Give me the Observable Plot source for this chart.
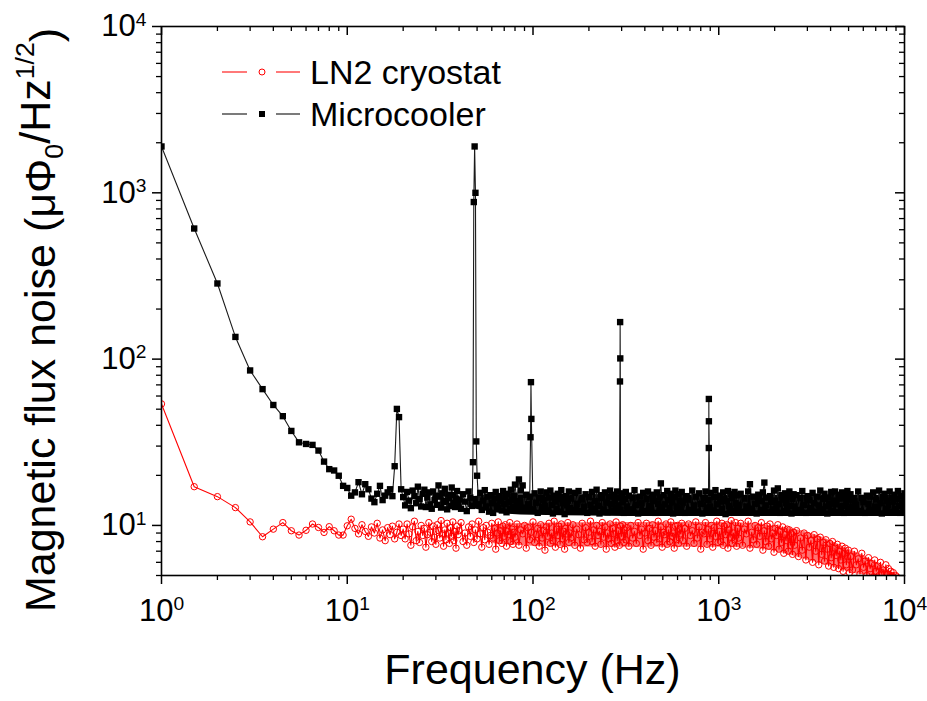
<!DOCTYPE html>
<html><head><meta charset="utf-8">
<script src="https://cdn.jsdelivr.net/npm/d3@7"></script>
<script src="https://cdn.jsdelivr.net/npm/@observablehq/plot@0.6"></script>
<style>
html,body{margin:0;padding:0;background:#fff;}
#chart{width:927px;height:701px;}
</style></head><body><div id="chart"></div>
<script>
// ---- data: frequency (Hz), noise (µΦ0/Hz^1/2) ----
// low-frequency points, individually visible
const microLow = [
[1,1900],[1.5,610],[2,285],[2.5,136],[3,85.5],[3.5,66],[4,53],[4.5,45.4],[5,37],[5.5,31.6],
[6,30.9],[6.5,30.5],[7,28.2],[7.5,24.2],[8,21.8],[8.5,21.4],[9,19.9],[9.5,17.3],[10,16.8],[10.5,15.1],
[11,15.8],[11.5,18.2],[12,15.4],[12.5,17.7],[13,16.5],[13.5,14.5],[14,13.8],[14.5,15.5],[15,17.3],[15.5,14.2],
[16,15.1],[16.5,15.8],[17,16.5],[17.5,15.0],[18,22.7],[18.5,50.2],[19,44.8],[19.5,16.5]
];
const ln2Low = [
[1,53.8],[1.5,17.1],[2,14.9],[2.5,12.8],[3,10.5],[3.5,8.55],[4,9.5],[4.5,10.4],[5,9.29],[5.5,8.75],
[6,9.35],[6.5,10.2],[7,9.72],[7.5,9.08],[8,9.83],[8.5,9.29],[9,8.75],[9.5,8.75],[10,9.95],[10.5,10.9],
[11,9.6],[11.5,8.9],[12,10.1],[12.5,9.2],[13,8.6],[13.5,9.8],[14,9.0],[14.5,10.3],[15,8.4],[15.5,9.4],
[16,8.1],[16.5,9.7],[17,8.8],[17.5,9.9],[18,8.3],[18.5,9.1],[19,10.2],[19.5,8.7]
];
// narrow line peaks of the microcooler spectrum
const microPeaks = [
[47.5,24],[48.5,1900],[49.5,32],[97,33.9],[97.5,72.7],[294,73.4],[294.5,167],[295,101],
[884,29.2],[884.5,57.6],[885,42.3]
];
// dense part of the spectra (20 Hz - 10 kHz)
const denseFreq = [
20,20.5,21,21.5,22,22.5,23,23.5,24,24.5,25,25.5,26,26.5,27,27.5,28,28.5,29,29.5,
30,30.5,31,31.5,32,32.5,33,33.5,34,34.5,35,35.5,36,36.5,37,37.5,38,38.5,39,39.5,
40,41,42,43,44,45,46,47,48,49,50,51,52,53,54,55,56,57,58,59,
60,61,62,63,64,65,66,67,68,69,70,71,72,73,74,75,76,77,78,79,
80,82,84,86,88,90,92,94,96,98,100,102,104,106,108,110,112,114,116,118,
120,122,124,126,128,130,132,134,136,138,140,142,144,146,148,150,152,154,156,158,
160,164,168,172,176,180,184,188,192,196,200,204,208,212,216,220,224,228,232,236,
240,244,248,252,256,260,264,268,272,276,280,284,288,292,296,300,304,308,312,316,
320,328,336,344,352,360,368,376,384,392,400,408,416,424,432,440,448,456,464,472,
480,488,496,504,512,520,528,536,544,552,560,568,576,584,592,600,608,616,624,632,
640,656,672,688,704,720,736,752,768,784,800,816,832,848,864,880,896,912,928,944,
960,976,992,1008,1024,1040,1056,1072,1088,1104,1120,1136,1152,1168,1184,1200,1216,1232,1248,1264,
1280,1312,1344,1376,1408,1440,1472,1504,1536,1568,1600,1632,1664,1696,1728,1760,1792,1824,1856,1888,
1920,1952,1984,2016,2048,2080,2112,2144,2176,2208,2240,2272,2304,2336,2368,2400,2432,2464,2496,2528,
2560,2624,2688,2752,2816,2880,2944,3008,3072,3136,3200,3264,3328,3392,3456,3520,3584,3648,3712,3776,
3840,3904,3968,4032,4096,4160,4224,4288,4352,4416,4480,4544,4608,4672,4736,4800,4864,4928,4992,5056,
5120,5248,5376,5504,5632,5760,5888,6016,6144,6272,6400,6528,6656,6784,6912,7040,7168,7296,7424,7552,
7680,7808,7936,8064,8192,8320,8448,8576,8704,8832,8960,9088,9216,9344,9472,9600,9728,9856,9984,10000
];
const microDense = [
14.8,13.2,15.9,14.1,12.7,16.2,15.0,13.6,17.1,14.4,13.0,15.5,16.4,12.9,14.7,15.8,13.4,12.6,16.0,14.2,
15.1,13.3,17.4,14.9,12.8,15.6,13.8,16.6,14.0,12.5,15.3,14.6,13.1,16.9,15.2,13.7,12.9,14.5,16.1,13.5,
14.3,12.6,15.4,13.9,12.2,16.0,14.7,13.1,880,1000,19.9,13.4,15.7,12.4,14.1,16.3,13.0,14.9,12.1,15.2,
13.6,11.9,14.5,15.9,13.2,12.7,15.0,14.0,12.3,16.1,13.5,14.8,12.0,15.5,13.8,12.6,16.4,14.2,13.0,15.1,
17.6,14.0,18.9,16.2,17.4,12.8,15.3,13.4,14.9,43.7,12.5,15.6,13.7,11.9,14.6,16.0,12.9,14.2,13.1,15.8,
12.3,14.7,16.2,13.3,11.8,15.1,13.9,12.6,15.5,14.4,12.1,16.3,13.6,14.8,11.7,15.0,13.2,14.1,16.0,12.7,
14.5,12.4,15.7,13.5,16.1,12.2,14.3,13.0,15.4,11.9,14.8,13.3,15.9,12.6,14.0,16.4,13.1,11.8,15.2,14.6,
12.5,15.8,13.7,12.0,14.9,16.2,13.4,12.3,15.3,14.1,12.8,16.0,13.2,14.7,12.4,15.6,13.8,11.9,14.4,15.9,
13.0,15.1,12.5,14.6,16.3,13.3,11.8,14.9,13.6,15.7,12.2,14.4,16.0,13.1,12.4,15.3,14.0,11.9,15.8,13.5,
14.7,17.9,12.9,15.2,13.4,12.0,16.1,14.2,12.7,15.5,13.8,11.8,14.8,16.2,13.0,12.3,15.4,14.1,12.6,15.9,
13.7,11.9,15.0,14.3,12.4,16.2,13.2,14.9,12.1,15.6,13.5,11.8,14.6,16.0,12.8,14.2,13.0,15.7,12.3,14.8,
16.3,13.4,12.0,15.1,13.9,12.6,15.8,14.4,11.7,14.0,16.1,13.1,12.5,15.4,14.6,12.2,15.9,13.6,12.9,15.2,
13.3,15.5,12.1,14.5,13.0,16.0,17.7,12.6,14.9,13.5,11.8,15.3,14.0,12.4,15.8,18.1,13.2,14.7,12.0,15.0,
13.8,12.5,16.2,14.1,12.9,16.7,13.4,11.9,15.2,14.3,12.2,15.6,13.6,12.7,14.8,16.0,13.1,11.8,14.4,15.4,
13.0,15.2,12.4,14.6,16.1,13.3,11.9,15.0,14.2,12.7,15.7,13.6,12.1,14.9,13.2,16.2,12.5,14.4,15.5,13.0,
11.8,14.7,13.5,15.9,12.3,14.1,16.0,13.4,12.0,15.3,14.5,12.8,15.8,13.1,11.9,14.8,13.7,16.1,12.6,14.3,
15.4,12.9,14.0,13.3,16.0,12.2,14.6,13.8,11.9,15.1,13.5,14.9,12.4,15.8,13.0,14.3,12.7,16.2,13.6,11.8,
14.8,15.5,12.5,14.1,13.2,16.0,12.1,14.7,13.9,15.3,12.6,14.4,16.1,13.1,11.9,15.0,13.7,12.8,15.6,14.2
];
const ln2Dense = [
9.5,8.3,10.2,8.9,7.6,9.8,10.6,8.1,9.2,7.9,10.0,8.7,9.6,7.4,8.8,10.4,9.1,8.0,9.9,8.5,
7.7,10.1,9.3,8.4,10.7,8.9,7.5,9.4,8.2,10.3,9.0,7.8,9.7,8.6,10.5,8.1,9.2,7.3,9.9,8.8,
9.3,10.4,8.0,9.0,7.6,9.8,8.6,10.2,7.9,9.4,8.3,10.6,8.9,7.4,9.7,8.2,10.0,9.1,7.7,8.7,
10.3,8.4,9.6,7.2,9.0,10.5,8.1,9.3,7.8,9.9,8.6,10.1,7.5,9.2,8.8,10.4,8.0,9.5,7.7,9.1,
8.5,10.2,7.6,9.4,8.9,10.0,7.3,9.7,8.2,9.1,10.5,7.9,8.8,9.6,7.5,10.1,8.4,9.3,7.1,9.8,
8.6,10.3,7.8,9.0,8.1,10.6,7.4,9.5,8.7,9.9,7.7,10.2,8.3,9.2,7.2,9.6,8.9,10.4,7.9,9.0,
8.4,10.1,7.6,9.5,8.8,7.3,10.3,8.2,9.7,7.9,9.1,10.6,8.0,9.4,7.5,10.0,8.7,9.2,7.7,10.4,
8.5,9.8,7.2,9.0,8.3,10.2,7.8,9.6,8.9,7.4,10.5,8.1,9.3,7.6,9.9,8.6,10.1,7.9,9.4,8.2,
9.7,7.5,10.0,8.4,9.2,7.8,10.4,8.7,9.5,7.2,9.0,10.3,8.1,9.6,7.6,10.1,8.5,9.3,7.9,10.6,
8.3,9.8,7.4,9.1,8.8,10.2,7.7,9.4,8.0,10.5,8.6,9.0,7.3,9.9,8.2,10.0,7.8,9.5,8.9,10.3,
8.1,9.6,7.5,10.2,8.7,9.3,7.8,10.5,8.4,9.8,7.2,9.1,8.9,10.4,7.7,9.5,8.3,10.0,7.4,9.7,
8.6,10.6,7.9,9.2,8.0,10.3,7.6,9.9,8.8,10.1,7.3,9.4,8.5,10.7,7.8,9.0,8.2,10.4,7.5,9.6,
8.4,10.3,7.6,9.5,8.9,10.6,7.3,9.1,8.2,10.0,7.7,9.7,8.6,10.4,7.1,9.3,8.0,9.9,7.5,10.2,
8.3,9.0,6.9,9.6,8.7,10.1,7.2,9.2,7.9,9.8,6.8,8.8,8.1,9.5,7.0,9.4,7.6,8.9,6.7,9.1,
7.6,9.3,6.5,8.4,7.1,9.0,6.2,8.7,7.4,8.1,6.0,8.8,7.0,8.3,5.8,8.5,6.7,7.9,6.1,8.2,
7.2,5.7,7.8,6.4,8.0,5.6,7.3,6.6,7.7,5.5,7.0,6.2,7.5,5.3,6.8,7.3,5.8,6.5,7.1,5.2,
6.5,5.4,7.0,5.8,6.3,5.1,6.8,5.6,6.1,5.0,6.4,5.5,5.9,4.9,6.2,5.3,5.7,5.0,6.0,5.2,
5.4,4.8,5.8,5.1,5.5,4.9,5.3,5.0,5.2,4.7,5.0,4.9,4.6,4.8,4.5,4.7,4.6,4.4,4.6,4.5
];
// where the measured points are too dense to separate, the picture shows a
// filled band; its lower and upper edges read from the picture: [f, low, high]
const microBand = [
[45,12.8,14.8],[60,12.0,15.2],[100,11.5,15.3],[200,11.4,15.3],[500,11.3,15.3],
[1000,11.3,15.2],[2000,11.3,15.2],[5000,11.3,15.2],[10000,11.3,15.2]
];
const ln2Band = [
[60,7.8,10.1],[100,7.5,10.3],[300,7.4,10.4],[1000,7.4,10.4],[1500,7.3,10.3],[2000,7.0,9.9],
[3000,6.2,9.1],[4000,5.7,8.1],[5000,5.25,7.2],[6000,5.05,6.6],[7000,5.0,6.0],[8000,5.0,5.4],[8800,5.0,5.05]
];
const seriesNames = ["LN2 cryostat", "Microcooler"];
const xDomain = [1, 10000];
const yDomain = [5, 10000];
const xMajorTicks = [1, 10, 100, 1000, 10000];
const yMajorTicks = [10, 100, 1000, 10000];
const xTitle = "Frequency (Hz)";

// ---- tables built from the arrays ----
const byF = (a, b) => a.f - b.f;
const micro = [
  ...microLow.map(([f, v]) => ({f, v})),
  ...denseFreq.map((f, i) => ({f, v: microDense[i]})),
  ...microPeaks.map(([f, v]) => ({f, v}))
].sort(byF);
const ln2 = [
  ...ln2Low.map(([f, v]) => ({f, v})),
  ...denseFreq.map((f, i) => ({f, v: ln2Dense[i]}))
].sort(byF);
const microEnv = microBand.map(([f, lo, hi]) => ({f, lo, hi}));
const ln2Env = ln2Band.map(([f, lo, hi]) => ({f, lo, hi}));

// ---- layout ----
const W = 927, H = 701;
const M = {top: 26, right: 23, bottom: 126, left: 161};
const innerW = W - M.left - M.right, innerH = H - M.top - M.bottom;
const FONT = '"Liberation Sans", Arial, Helvetica, sans-serif';
const isDecade = t => Math.abs(Math.log10(t) - Math.round(Math.log10(t))) < 1e-9;
const xMinor = d3.scaleLog().domain(xDomain).ticks().filter(t => !isDecade(t));
const yMinor = d3.scaleLog().domain(yDomain).ticks().filter(t => !isDecade(t));
const supFmt = d => "10|" + Math.round(Math.log10(d));

const chart = Plot.plot({
  width: W, height: H,
  marginTop: M.top, marginRight: M.right, marginBottom: M.bottom, marginLeft: M.left,
  style: {fontFamily: FONT, fontSize: "31px", color: "black", background: "white", overflow: "visible"},
  x: {type: "log", domain: xDomain},
  y: {type: "log", domain: yDomain},
  marks: [
    Plot.areaY(microEnv, {x: "f", y1: "lo", y2: "hi", fill: "black", curve: "monotone-x"}),
    Plot.line(micro, {x: "f", y: "v", stroke: "#1a1a1a", strokeWidth: 1.1, clip: true}),
    Plot.dot(micro, {x: "f", y: "v", symbol: "square", fill: "black", r: 3.6, clip: true}),
    Plot.areaY(ln2Env, {x: "f", y1: "lo", y2: "hi", fill: "#ff0000", fillOpacity: 0.55, curve: "monotone-x"}),
    Plot.line(ln2, {x: "f", y: "v", stroke: "#ff0000", strokeWidth: 1.1, clip: true}),
    Plot.dot(ln2, {x: "f", y: "v", stroke: "#ff0000", fill: "none", r: 3.2, strokeWidth: 1, clip: true}),
    Plot.frame({stroke: "black", strokeWidth: 1.6}),
    Plot.axisX(xMajorTicks, {tickSize: 9, tickPadding: 14, tickFormat: supFmt, strokeWidth: 1.5, label: null}),
    Plot.axisX(xMinor, {tickSize: 5, tickFormat: () => "", strokeWidth: 1.3, label: null}),
    Plot.axisY(yMajorTicks, {tickSize: 9, tickPadding: 6, tickFormat: supFmt, strokeWidth: 1.5, label: null}),
    Plot.axisY(yMinor, {tickSize: 5, tickFormat: () => "", strokeWidth: 1.3, label: null}),
    Plot.tickX(xMajorTicks, {x: d => d, insetBottom: innerH - 9, stroke: "black", strokeWidth: 1.5}),
    Plot.tickX(xMinor, {x: d => d, insetBottom: innerH - 5, stroke: "black", strokeWidth: 1.3}),
    Plot.tickY(yMajorTicks, {y: d => d, insetLeft: innerW - 9, stroke: "black", strokeWidth: 1.5}),
    Plot.tickY(yMinor, {y: d => d, insetLeft: innerW - 5, stroke: "black", strokeWidth: 1.3})
  ]
});
document.getElementById("chart").appendChild(chart);

// superscript exponents in tick labels
const svg = d3.select(chart);
svg.selectAll("text").each(function() {
  const t = this.textContent;
  if (t.includes("|")) {
    const [base, exp] = t.split("|");
    const el = d3.select(this);
    el.text(base);
    el.append("tspan").attr("dy", "-0.55em").attr("font-size", "0.62em").text(exp);
  }
});

// axis titles
svg.append("text")
  .attr("x", M.left + innerW / 2).attr("y", 684)
  .attr("text-anchor", "middle").attr("font-size", 43).attr("font-family", FONT).attr("fill", "black")
  .text(xTitle);
const yt = svg.append("text")
  .attr("transform", "translate(55,320) rotate(-90)")
  .attr("text-anchor", "middle").attr("font-size", 43).attr("font-family", FONT).attr("fill", "black");
yt.append("tspan").text("Magnetic flux noise (\u03bc\u03a6");
yt.append("tspan").attr("font-size", "0.62em").attr("dy", "0.3em").text("0");
yt.append("tspan").attr("dy", "-0.3em").text("/Hz");
yt.append("tspan").attr("font-size", "0.62em").attr("dy", "-0.6em").text("1/2");
yt.append("tspan").attr("dy", "0.6em").text(")");

// legend
const legend = svg.append("g").attr("font-family", FONT).attr("font-size", 34).attr("text-anchor", "start");
const rows = [
  {name: seriesNames[0], y: 72, color: "#ff3030"},
  {name: seriesNames[1], y: 114, color: "#333"}
];
rows.forEach((r, i) => {
  legend.append("line").attr("x1", 222).attr("x2", 247).attr("y1", r.y).attr("y2", r.y).attr("stroke", r.color).attr("stroke-width", 1.3);
  legend.append("line").attr("x1", 276).attr("x2", 300).attr("y1", r.y).attr("y2", r.y).attr("stroke", r.color).attr("stroke-width", 1.3);
  if (i === 0) legend.append("circle").attr("cx", 262).attr("cy", r.y).attr("r", 3).attr("fill", "none").attr("stroke", "#ff0000");
  else legend.append("rect").attr("x", 259).attr("y", r.y - 3).attr("width", 6).attr("height", 6).attr("fill", "black");
  legend.append("text").attr("x", 310).attr("y", r.y + 12).attr("text-anchor", "start").attr("fill", "black").text(r.name);
});
</script>
</body></html>
